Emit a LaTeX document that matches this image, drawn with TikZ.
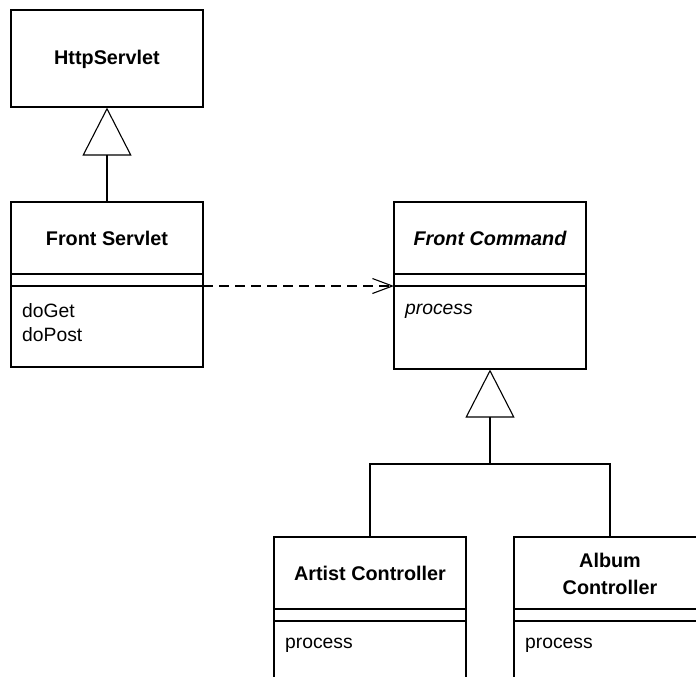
\documentclass[tikz,border=0pt]{standalone}
\usepackage{fontspec}
\setmainfont{Liberation Sans}
\usetikzlibrary{arrows.meta}
\tikzset{
  classbox/.style={draw, line width=1.1pt, minimum width=192pt, inner sep=0pt},
  ttl/.style={font=\fontsize{19.8}{27}\selectfont\bfseries, align=center},
  op/.style={font=\fontsize{19.3}{24}\selectfont, anchor=west, inner sep=0pt},
  conn/.style={line width=1.1pt},
  gen/.style={conn, -{Triangle[open, length=48pt, width=49pt]}},
  dep/.style={conn, dash pattern=on 10pt off 6pt, -{Straight Barb[length=20pt, width=15pt, line width=1.1pt]}}
}
\begin{document}
\begin{tikzpicture}[x=1pt,y=-1pt]
\clip (0,0) rectangle (696,677);
\fill[white] (0,0) rectangle (696,677);
% class boxes
\node[classbox, minimum height=97pt] (hs) at (107,58.5) {};
\node[classbox, minimum height=165pt] (fs) at (107,284.5) {};
\node[classbox, minimum height=167pt] (fc) at (490,285.5) {};
\node[classbox, minimum height=163pt] (ac) at (370,618.5) {};
\node[classbox, minimum height=163pt] (al) at (610,618.5) {};
% titles
\node[ttl] (hst) at (107,59) {HttpServlet};
\node[ttl] (fst) at (107,238) {Front Servlet};
\node[ttl] (fct) at (490,238) {\itshape Front Command};
\node[ttl] (act) at (370,573) {Artist Controller};
\node[ttl] (alt) at (610,574) {Album\\Controller};
% compartments
\draw[conn] (11,274) -- (203,274) (11,286) -- (203,286);
\draw[conn] (394,274) -- (586,274) (394,286) -- (586,286);
\draw[conn] (274,609) -- (466,609) (274,621) -- (466,621);
\draw[conn] (514,609) -- (706,609) (514,621) -- (706,621);
% operations
\node[op] (fs1) at (22,311) {doGet};
\node[op] (fs2) at (22,335) {doPost};
\node[op] (fc1) at (405,311) {\itshape process};
\node[op] (ac1) at (285,645) {process};
\node[op] (al1) at (525,645) {process};
% connectors
\draw[gen] (fs.north) -- (hs.south);
\coordinate (j) at (490,464);
\coordinate (ds) at (203,286);
\coordinate (de) at (394,286);
\draw[conn] (ac.north) |- (al.north |- j) -- (al.north);
\draw[gen] (j) -- (fc.south);
\draw[dep] (ds) -- (de);
\end{tikzpicture}
\end{document}
